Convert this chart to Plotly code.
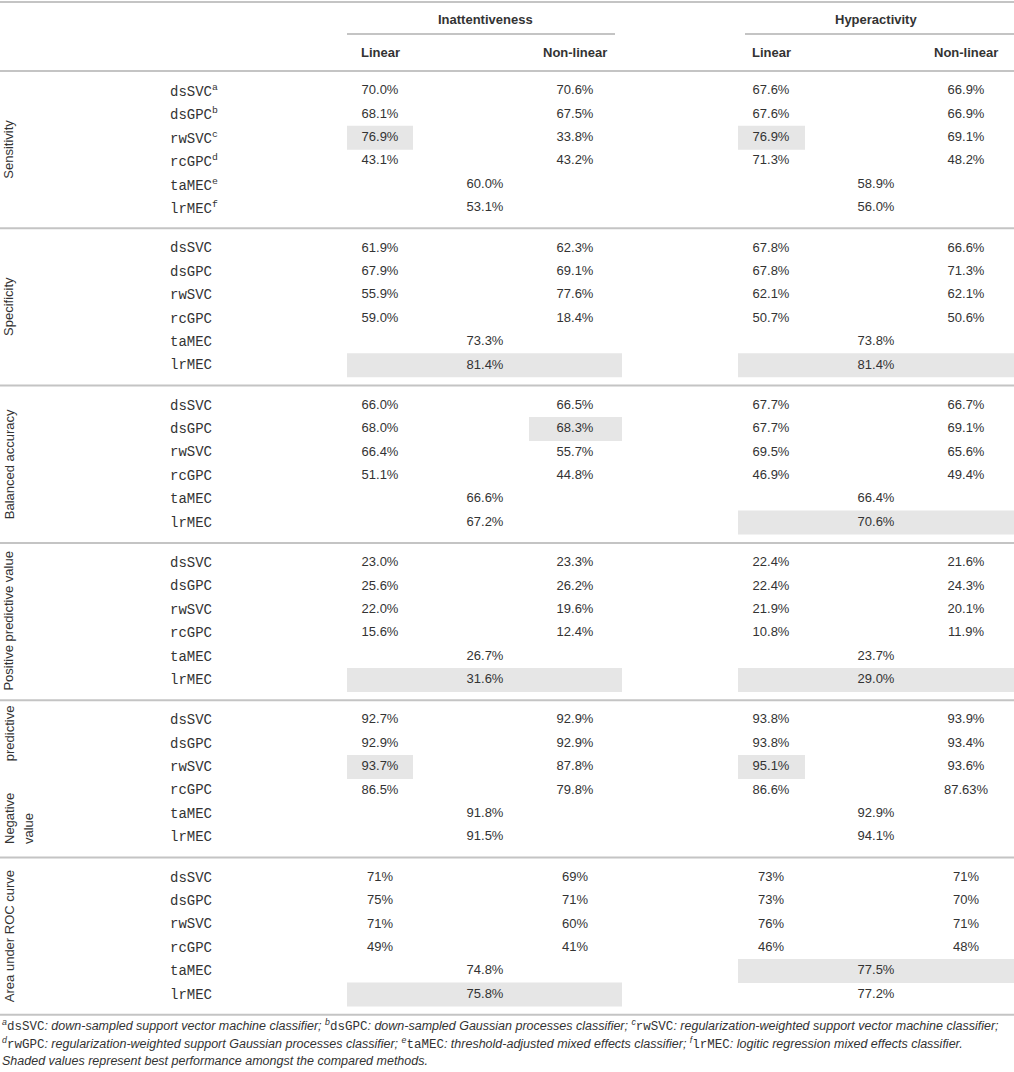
import plotly.graph_objects as go

# Table content
metrics = ["Sensitivity", "Specificity", "Balanced accuracy",
           "Positive predictive value", "Negative predictive value",
           "Area under ROC curve"]
methods = ["dsSVC", "dsGPC", "rwSVC", "rcGPC", "taMEC", "lrMEC"]
method_notes = ["a", "b", "c", "d", "e", "f"]
groups = ["Inattentiveness", "Hyperactivity"]
kernels = ["Linear", "Non-linear"]

inatt_linear = [
    ["70.0%", "68.1%", "76.9%", "43.1%"],
    ["61.9%", "67.9%", "55.9%", "59.0%"],
    ["66.0%", "68.0%", "66.4%", "51.1%"],
    ["23.0%", "25.6%", "22.0%", "15.6%"],
    ["92.7%", "92.9%", "93.7%", "86.5%"],
    ["71%", "75%", "71%", "49%"],
]
inatt_nonlinear = [
    ["70.6%", "67.5%", "33.8%", "43.2%"],
    ["62.3%", "69.1%", "77.6%", "18.4%"],
    ["66.5%", "68.3%", "55.7%", "44.8%"],
    ["23.3%", "26.2%", "19.6%", "12.4%"],
    ["92.9%", "92.9%", "87.8%", "79.8%"],
    ["69%", "71%", "60%", "41%"],
]
inatt_mec = [
    ["60.0%", "53.1%"],
    ["73.3%", "81.4%"],
    ["66.6%", "67.2%"],
    ["26.7%", "31.6%"],
    ["91.8%", "91.5%"],
    ["74.8%", "75.8%"],
]
hyper_linear = [
    ["67.6%", "67.6%", "76.9%", "71.3%"],
    ["67.8%", "67.8%", "62.1%", "50.7%"],
    ["67.7%", "67.7%", "69.5%", "46.9%"],
    ["22.4%", "22.4%", "21.9%", "10.8%"],
    ["93.8%", "93.8%", "95.1%", "86.6%"],
    ["73%", "73%", "76%", "46%"],
]
hyper_nonlinear = [
    ["66.9%", "66.9%", "69.1%", "48.2%"],
    ["66.6%", "71.3%", "62.1%", "50.6%"],
    ["66.7%", "69.1%", "65.6%", "49.4%"],
    ["21.6%", "24.3%", "20.1%", "11.9%"],
    ["93.9%", "93.4%", "93.6%", "87.63%"],
    ["71%", "70%", "71%", "48%"],
]
hyper_mec = [
    ["58.9%", "56.0%"],
    ["73.8%", "81.4%"],
    ["66.4%", "70.6%"],
    ["23.7%", "29.0%"],
    ["92.9%", "94.1%"],
    ["77.5%", "77.2%"],
]

# shaded "best" cells: (metric, group, column, method row)
best = [
    (0, "Inattentiveness", "Linear", 2), (0, "Hyperactivity", "Linear", 2),
    (1, "Inattentiveness", "MEC", 5), (1, "Hyperactivity", "MEC", 5),
    (2, "Inattentiveness", "Non-linear", 1), (2, "Hyperactivity", "MEC", 5),
    (3, "Inattentiveness", "MEC", 5), (3, "Hyperactivity", "MEC", 5),
    (4, "Inattentiveness", "Linear", 2), (4, "Hyperactivity", "Linear", 2),
    (5, "Inattentiveness", "MEC", 5), (5, "Hyperactivity", "MEC", 4),
]

MONO_SPAN = "<span style='font-family:Liberation Mono;font-style:normal'>%s</span>"
footnotes = [
    "<sup>a</sup>" + MONO_SPAN % "dsSVC" + ": down-sampled support vector machine classifier; "
    "<sup>b</sup>" + MONO_SPAN % "dsGPC" + ": down-sampled Gaussian processes classifier; "
    "<sup>c</sup>" + MONO_SPAN % "rwSVC" + ": regularization-weighted support vector machine classifier;",
    "<sup>d</sup>" + MONO_SPAN % "rwGPC" + ": regularization-weighted support Gaussian processes classifier; "
    "<sup>e</sup>" + MONO_SPAN % "taMEC" + ": threshold-adjusted mixed effects classifier; "
    "<sup>f</sup>" + MONO_SPAN % "lrMEC" + ": logitic regression mixed effects classifier.",
    "Shaded values represent best performance amongst the compared methods.",
]

# layout geometry (pixels)
W, H = 1014, 1072
SEC0, SEC_H = 71, 157.3
ROW0, ROW_H = 20, 23.4
TXT = "#333333"
LINE = "#c4c4c4"
SHADE = "#e6e6e6"
SANS = "Liberation Sans, Arial, sans-serif"
MONO = "Liberation Mono, Courier New, monospace"

col_x = {
    ("Inattentiveness", "Linear"): 380, ("Inattentiveness", "Non-linear"): 575,
    ("Inattentiveness", "MEC"): 485,
    ("Hyperactivity", "Linear"): 771, ("Hyperactivity", "Non-linear"): 966,
    ("Hyperactivity", "MEC"): 876,
}
shade_x = {
    ("Inattentiveness", "Linear"): (347, 413), ("Inattentiveness", "Non-linear"): (529, 622),
    ("Inattentiveness", "MEC"): (347, 622),
    ("Hyperactivity", "Linear"): (738, 805), ("Hyperactivity", "Non-linear"): (933, 1000),
    ("Hyperactivity", "MEC"): (738, 1014),
}


def sep_y(k):
    return SEC0 + k * SEC_H


def row_y(m, r):
    return sep_y(m) + ROW0 + r * ROW_H


fig = go.Figure()
shapes = []

# shading
for m, g, c, r in best:
    x0, x1 = shade_x[(g, c)]
    y = row_y(m, r)
    shapes.append(dict(type="rect", xref="x", yref="y", x0=x0, x1=x1,
                       y0=y - 12, y1=y + 12, fillcolor=SHADE, line_width=0, layer="below"))

# rules
shapes.append(dict(type="line", x0=0, x1=W, y0=2, y1=2, line=dict(color=LINE, width=2)))
shapes.append(dict(type="line", x0=347, x1=615, y0=34, y1=34, line=dict(color=LINE, width=2)))
shapes.append(dict(type="line", x0=745, x1=W, y0=34, y1=34, line=dict(color=LINE, width=2)))
for k in range(len(metrics) + 1):
    shapes.append(dict(type="line", x0=0, x1=W, y0=sep_y(k), y1=sep_y(k),
                       line=dict(color=LINE, width=2)))

# values
xs, ys, texts = [], [], []
for g, lin, nonlin, mec in [("Inattentiveness", inatt_linear, inatt_nonlinear, inatt_mec),
                            ("Hyperactivity", hyper_linear, hyper_nonlinear, hyper_mec)]:
    for m in range(len(metrics)):
        for r in range(4):
            xs += [col_x[(g, "Linear")], col_x[(g, "Non-linear")]]
            ys += [row_y(m, r), row_y(m, r)]
            texts += [lin[m][r], nonlin[m][r]]
        for j in range(2):
            xs.append(col_x[(g, "MEC")])
            ys.append(row_y(m, 4 + j))
            texts.append(mec[m][j])

fig.add_trace(go.Scatter(
    x=xs, y=ys, text=texts, mode="text", textposition="middle center",
    textfont=dict(family=SANS, size=13, color=TXT), hoverinfo="skip",
))

annotations = []
# header
for g in groups:
    annotations.append(dict(x=col_x[(g, "MEC")], y=19, text="<b>%s</b>" % g,
                            font=dict(family=SANS, size=13, color=TXT)))
    for c in kernels:
        annotations.append(dict(x=col_x[(g, c)], y=52, text="<b>%s</b>" % c,
                                font=dict(family=SANS, size=13, color=TXT)))

# method labels
for m in range(len(metrics)):
    for r, name in enumerate(methods):
        label = name + ("<sup>%s</sup>" % method_notes[r] if m == 0 else "")
        annotations.append(dict(x=168, y=row_y(m, r), text=label, xanchor="left",
                                font=dict(family=MONO, size=14, color=TXT)))

# metric labels (rotated)
for m, name in enumerate(metrics):
    mid = (sep_y(m) + sep_y(m + 1)) / 2
    if name == "Negative predictive value":
        words = name.split()
        annotations.append(dict(x=9, y=sep_y(m + 1) - 11, text=words[0], textangle=-90,
                                yanchor="bottom", font=dict(family=SANS, size=13, color=TXT)))
        annotations.append(dict(x=9, y=sep_y(m) + 3, text=words[1], textangle=-90,
                                yanchor="top", font=dict(family=SANS, size=13, color=TXT)))
        annotations.append(dict(x=28, y=sep_y(m + 1) - 11, text=words[2], textangle=-90,
                                yanchor="bottom", font=dict(family=SANS, size=13, color=TXT)))
    else:
        annotations.append(dict(x=9, y=mid, text=name, textangle=-90,
                                font=dict(family=SANS, size=13, color=TXT)))

# footnotes
for i, line in enumerate(footnotes):
    annotations.append(dict(x=0, y=1025 + i * 18, text="<i>%s</i>" % line, xanchor="left",
                            font=dict(family=SANS, size=12.5, color=TXT)))

for a in annotations:
    a.update(xref="x", yref="y", showarrow=False)

fig.update_layout(
    width=W, height=H, margin=dict(l=0, r=0, t=0, b=0),
    paper_bgcolor="white", plot_bgcolor="white", showlegend=False,
    shapes=shapes, annotations=annotations,
    xaxis=dict(range=[0, W], visible=False, fixedrange=True),
    yaxis=dict(range=[H, 0], visible=False, fixedrange=True),
)

fig.write_html("out.html", config={"displayModeBar": False},
               post_script="document.body.style.margin='0';document.body.style.overflow='hidden';")
